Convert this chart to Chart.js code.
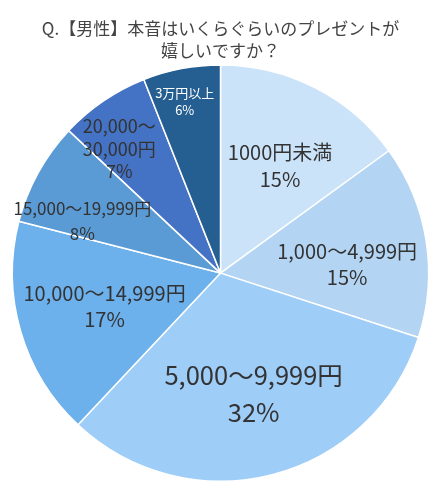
<!DOCTYPE html>
<html>
<head>
<meta charset="utf-8">
<script src="https://cdn.jsdelivr.net/npm/chart.js@4"></script>
<style>
html,body{margin:0;padding:0;background:#fff;}
#wrap{width:441px;height:500px;}
</style>
</head>
<body>
<div id="wrap"><canvas id="c" width="441" height="500"></canvas></div>
<script>
const categories = ["1000円未満", "1,000〜4,999円", "5,000〜9,999円", "10,000〜14,999円", "15,000〜19,999円", "20,000〜\n30,000円", "3万円以上"];
const values = [15, 15, 32, 17, 8, 7, 6];
const colors = ["#cbe3f9", "#b3d4f2", "#9ecdf8", "#6cb0ec", "#5b9bd5", "#4472c4", "#255e91"];
const titleLines = ["Q.【男性】本音はいくらぐらいのプレゼントが", "嬉しいですか？"];

// label styling (per slice): font size, line height, radius fraction, angle offset (deg), color
const labelStyle = [
  {size: 20, lh: 27, rf: 0.59, da: 2, color: "#333"},
  {size: 20, lh: 26, rf: 0.61, da: 5, color: "#333"},
  {size: 25.5, lh: 37, rf: 0.60, da: -1, color: "#333"},
  {size: 20, lh: 26, rf: 0.58, da: 0, color: "#333"},
  {size: 17, lh: 25, rf: 0.71, da: -8, color: "#333"},
  {size: 18, lh: 22.5, rf: 0.77, da: -5, color: "#333"},
  {size: 13, lh: 17, rf: 0.84, da: -1, color: "#fff"}
];

const labelPlugin = {
  id: 'sliceLabels',
  afterDatasetsDraw(chart) {
    const ctx = chart.ctx;
    const meta = chart.getDatasetMeta(0);
    const total = values.reduce((a, b) => a + b, 0);
    meta.data.forEach((arc, i) => {
      const st = labelStyle[i];
      const mid = (arc.startAngle + arc.endAngle) / 2 + st.da * Math.PI / 180;
      const r = arc.outerRadius * st.rf;
      const x = arc.x + Math.cos(mid) * r;
      const y = arc.y + Math.sin(mid) * r;
      const lines = categories[i].split("\n").concat([Math.round(values[i] / total * 100) + "%"]);
      ctx.save();
      ctx.fillStyle = st.color;
      ctx.font = st.size + "px 'Noto Sans CJK JP', 'Noto Sans', sans-serif";
      ctx.textAlign = "center";
      ctx.textBaseline = "middle";
      const h = (lines.length - 1) * st.lh;
      lines.forEach((t, k) => ctx.fillText(t, x, y - h / 2 + k * st.lh));
      ctx.restore();
    });
  }
};

new Chart(document.getElementById('c'), {
  type: 'pie',
  data: {
    labels: categories,
    datasets: [{
      data: values,
      backgroundColor: colors,
      borderColor: "#ffffff",
      borderWidth: 1.5
    }]
  },
  options: {
    responsive: false,
    animation: false,
    devicePixelRatio: 1,
    layout: {padding: {top: 0, bottom: 18, left: 0, right: 0}},
    plugins: {
      legend: {display: false},
      tooltip: {enabled: false},
      title: {
        display: true,
        text: titleLines,
        color: "#444",
        font: {size: 17, family: "'Noto Sans CJK JP', 'Noto Sans', sans-serif", weight: 'normal', lineHeight: 1.3},
        padding: {top: 17, bottom: 3}
      }
    }
  },
  plugins: [labelPlugin]
});
</script>
</body>
</html>
